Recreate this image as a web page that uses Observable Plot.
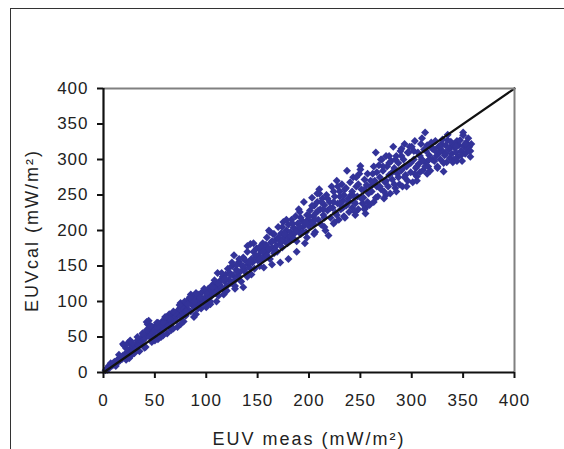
<!DOCTYPE html>
<html>
<head>
<meta charset="utf-8">
<script src="https://cdn.jsdelivr.net/npm/d3@7"></script>
<script src="https://cdn.jsdelivr.net/npm/@observablehq/plot@0.6"></script>
<style>
  html, body { margin: 0; padding: 0; background: #fff; overflow: hidden; width: 564px; height: 449px; }
  #wrap { position: relative; width: 564px; height: 449px; }
  #frame { position: absolute; left: 10px; top: 8px; width: 600px; height: 500px;
           border-left: 1.5px solid #333; border-top: 1.5px solid #333; }
  #chart { position: absolute; left: 0; top: 0; }
  g[aria-label="x-axis tick label"] text, g[aria-label="y-axis tick label"] text { letter-spacing: 1px; }
  g[aria-label="x-axis label"] text, g[aria-label="y-axis label"] text { letter-spacing: 2px; }
</style>
</head>
<body>
<div id="wrap"><div id="frame"></div><div id="chart"></div></div>
<script>
const xTicks = [0, 50, 100, 150, 200, 250, 300, 350, 400];
const yTicks = [0, 50, 100, 150, 200, 250, 300, 350, 400];
const xLabel = "EUV meas (mW/m²)";
const yLabel = "EUVcal (mW/m²)";
const lineMeas = [0, 400];
const lineCal = [0, 400];

const euvMeas = [
  2,3,4,5,5,6,7,7,8,9,10,10,11,12,13,13,14,15,16,16,17,18,19,20,20,21,22,23,24,25,26,27,28,29,30,19,24,26,28,22,27,30,12,
  31,32,33,33,34,35,36,36,37,38,39,40,40,41,42,43,44,45,45,46,47,48,49,50,50,51,52,53,54,55,55,56,57,58,59,60,60,38,42,44,35,41,47,53,58,
  61,62,63,64,65,66,67,68,69,70,71,72,73,74,75,75,76,77,78,79,80,80,81,82,83,84,85,85,86,87,88,89,90,91,92,93,94,95,96,97,98,99,100,66,72,78,88,95,
  101,102,103,104,105,106,107,108,109,110,111,112,113,114,115,116,117,118,119,120,121,122,123,124,125,126,127,128,129,130,131,132,133,134,135,136,137,138,139,140,141,142,143,144,145,146,147,148,149,150,104,112,120,128,136,144,
  151,152,153,154,155,156,157,158,159,160,161,162,163,164,165,166,167,168,169,170,171,172,173,174,175,176,177,178,179,180,181,182,183,184,185,186,187,188,189,190,191,192,193,194,195,196,197,198,199,200,156,164,172,180,188,196,162,178,190,
  201,202,203,204,205,206,207,208,209,210,211,212,213,214,215,216,217,218,219,220,221,222,223,224,225,226,227,228,229,230,231,232,233,234,235,236,237,238,239,240,241,242,243,244,245,246,247,248,249,250,251,252,253,254,255,256,257,258,259,260,205,215,225,235,245,255,210,230,250,
  261,262,263,264,265,266,267,268,269,270,271,272,273,274,275,276,277,278,279,280,281,282,283,284,285,286,287,288,289,290,291,292,293,294,295,296,297,298,299,300,301,302,303,304,305,306,307,308,309,310,311,312,313,314,315,316,317,318,319,320,265,275,285,295,305,315,270,290,310,
  321,322,323,324,325,326,327,328,329,330,331,332,333,334,335,336,337,338,339,340,341,342,343,344,345,346,347,348,349,350,351,352,353,354,355,356,357,358,325,331,344,357,335,350,
  152,155,158,161,164,167,170,173,176,179,182,185,188,191,194,197,200,153,159,166,174,184,192,198,
  203,206,209,212,215,218,221,224,227,230,233,236,239,242,245,248,251,254,257,260,204,214,224,234,244,254,208,228,246,
  262,266,269,272,275,278,281,284,287,290,293,296,299,302,305,308,311,314,317,320,263,273,283,293,303,313,278,298,
  323,328,333,338,343,348,352,356,340,330,
  52,58,64,70,76,82,88,94,100,106,112,118,124,130,136,142,148,56,68,80,92,104,116,128,140,
  15,22,28,33,38,46,52,60,68,74,84,90,98,25,40,50,62,75,90,100,110,108,115,125,132,140,146
];
const euvCal = [
  3,5,4,7,9,8,10,13,9,12,14,11,15,13,17,14,18,16,20,17,22,19,24,21,38,25,23,29,26,31,28,35,30,36,33,40,42,45,38,18,24,27,9,
  37,35,41,45,39,43,47,40,44,50,46,52,48,54,71,68,55,50,58,62,53,64,57,60,51,66,59,70,62,56,68,64,72,60,70,66,74,55,60,73,30,36,43,47,52,
  70,78,66,82,74,72,80,76,84,78,74,86,82,90,79,98,88,94,84,100,92,80,96,89,103,98,86,110,100,94,106,92,104,99,110,101,96,112,104,98,115,106,100,60,64,72,78,90,
  112,118,106,114,122,109,117,126,112,120,140,116,124,130,119,135,110,128,138,122,146,131,140,126,150,137,165,130,145,152,136,156,142,128,150,162,145,158,140,170,152,148,181,160,155,170,146,162,175,158,96,108,115,122,120,138,
  165,150,172,158,182,162,176,168,190,171,200,160,183,175,195,168,186,178,170,205,188,182,196,176,212,190,184,200,192,208,186,198,215,190,204,196,220,185,210,200,226,195,214,205,240,210,198,222,215,206,148,152,155,160,170,182,198,215,230,
  228,212,246,220,235,198,225,240,215,252,230,208,245,222,236,200,250,228,193,240,218,262,232,210,248,225,270,238,215,255,230,265,242,220,258,235,284,245,226,268,250,232,275,240,222,262,248,230,280,291,258,238,246,272,224,264,280,252,236,270,195,205,212,218,226,232,258,238,286,
  255,280,240,270,310,262,248,292,275,258,300,284,245,268,305,290,262,278,252,298,272,318,288,260,305,280,295,265,312,285,262,300,322,278,290,270,310,295,282,318,268,300,326,288,276,310,294,282,322,300,285,314,338,296,320,290,306,284,324,300,246,250,255,262,270,280,300,315,330,
  315,298,326,305,290,318,310,300,322,312,283,306,320,296,327,314,302,318,308,322,300,316,310,326,304,320,327,312,298,338,318,308,324,314,330,318,304,322,288,295,298,312,335,334,
  160,170,180,175,185,172,190,185,195,182,192,188,200,205,198,212,220,178,165,195,205,210,218,190,
  235,215,228,240,218,245,232,255,222,248,232,260,240,255,238,265,245,258,240,262,210,230,240,250,248,230,252,262,275,
  268,282,262,290,270,295,282,300,275,305,290,310,295,312,290,305,298,312,300,315,290,255,265,275,280,290,305,318,
  312,318,308,325,318,306,322,312,296,328,
  64,70,76,84,92,96,100,106,112,120,126,132,138,142,150,156,165,50,62,86,90,100,118,118,135,
  25,34,42,50,55,66,70,78,86,95,106,112,118,20,35,45,55,68,82,92,100,130,140,155,160,178,182
];

const points = euvMeas.map((m, i) => ({ meas: m, cal: euvCal[i] }));
const diag = lineMeas.map((m, i) => ({ meas: m, cal: lineCal[i] }));

const chart = Plot.plot({
  width: 564,
  height: 449,
  marginLeft: 103,
  marginRight: 50,
  marginTop: 88,
  marginBottom: 77,
  x: { domain: [0, 400] },
  y: { domain: [0, 400] },
  style: { fontFamily: "'Liberation Sans', Arial, sans-serif", fontSize: "17px", color: "#222", background: "transparent" },
  marks: [
    Plot.dot(points, { x: "meas", y: "cal", symbol: "diamond2", r: 3.6, fill: "#333399", stroke: "none" }),
    Plot.line(diag, { x: "meas", y: "cal", stroke: "#111", strokeWidth: 2.2 }),
    Plot.ruleY([400], { stroke: "#808080", strokeWidth: 2 }),
    Plot.ruleX([400], { stroke: "#808080", strokeWidth: 2 }),
    Plot.ruleX([0], { stroke: "#111", strokeWidth: 2.2 }),
    Plot.ruleY([0], { stroke: "#111", strokeWidth: 2.2 }),
    Plot.axisX({ ticks: xTicks, tickSize: 6, tickPadding: 15, strokeWidth: 2, stroke: "#111", fontSize: 17,
      label: null }),
    Plot.axisX({ ticks: [], label: xLabel, labelAnchor: "center", labelArrow: "none", labelOffset: 72, fontSize: 18, tickSize: 0 }),
    Plot.axisY({ ticks: yTicks, tickSize: 6, tickPadding: 9, strokeWidth: 2, stroke: "#111", fontSize: 17,
      label: null }),
    Plot.axisY({ ticks: [], label: yLabel, labelAnchor: "center", labelArrow: "none", labelOffset: 78, fontSize: 18, tickSize: 0 })
  ]
});
document.getElementById("chart").appendChild(chart);
</script>
</body>
</html>
